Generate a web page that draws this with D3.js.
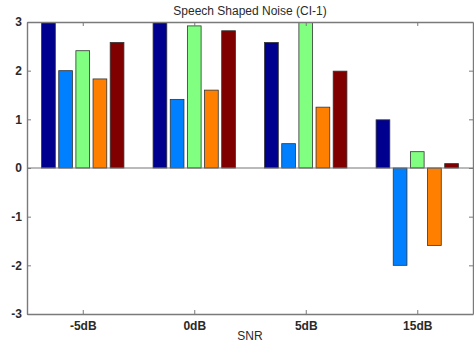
<!DOCTYPE html>
<html>
<head>
<meta charset="utf-8">
<script src="https://cdn.jsdelivr.net/npm/d3@7"></script>
<style>
  html, body { margin: 0; padding: 0; background: #fff; }
  svg { display: block; }
  text { font-family: "Liberation Sans", Arial, sans-serif; fill: #2a2a2a; }
</style>
</head>
<body>
<svg id="chart" width="474" height="347"></svg>
<script>
// SNR conditions on the x axis
const categories = ["-5dB", "0dB", "5dB", "15dB"];
// One array per series (five bars per SNR group)
const series1 = [3.3, 3.2, 2.58, 0.99];
const series2 = [2.0, 1.41, 0.5, -2.0];
const series3 = [2.41, 2.92, 3.3, 0.335];
const series4 = [1.83, 1.6, 1.25, -1.59];
const series5 = [2.58, 2.82, 1.99, 0.09];
const seriesList = [series1, series2, series3, series4, series5];
const colors = ["#00008f", "#0080ff", "#80ff80", "#ff8000", "#800000"];
const yTicks = [-3, -2, -1, 0, 1, 2, 3];

const title = "Speech Shaped Noise (CI-1)";
const xLabel = "SNR";

const svg = d3.select("#chart");
const margin = { left: 27, right: 1, top: 22, bottom: 33 };
const W = 474, H = 347;
const x0 = margin.left, x1 = W - margin.right;
const y0 = margin.top, y1 = H - margin.bottom;

// Category positions 1..4 with half-unit padding on each side
const x = d3.scaleLinear().domain([0.5, categories.length + 0.5]).range([x0, x1]);
const y = d3.scaleLinear().domain([-3, 3]).range([y1, y0]);

// Grouped-bar geometry
const nSeries = seriesList.length;
const groupWidth = Math.min(0.8, nSeries / (nSeries + 1.5));
const slot = groupWidth / nSeries;
const barW = slot * 0.8;

svg.append("clipPath").attr("id", "plotClip")
  .append("rect").attr("x", x0).attr("y", y0).attr("width", x1 - x0).attr("height", y1 - y0);

const plot = svg.append("g").attr("clip-path", "url(#plotClip)");

seriesList.forEach((vals, s) => {
  plot.selectAll(null)
    .data(vals)
    .enter()
    .append("rect")
    .attr("x", (d, i) => x(i + 1 - groupWidth / 2 + slot * s + (slot - barW) / 2))
    .attr("width", (d, i) => x(barW) - x(0))
    .attr("y", d => y(Math.max(0, d)))
    .attr("height", d => Math.abs(y(d) - y(0)))
    .attr("fill", colors[s])
    .attr("stroke", "#333")
    .attr("stroke-width", 0.8);
});

// Baseline at zero
svg.append("line")
  .attr("x1", x0).attr("x2", x1)
  .attr("y1", y(0)).attr("y2", y(0))
  .attr("stroke", "#777").attr("stroke-width", 1.2);

// Axes: ticks point inward, mirrored on the opposite sides
const tickLen = 4;
const axisColor = "#7a7a7a";

const bottomAxis = d3.axisBottom(x)
  .tickValues(d3.range(1, categories.length + 1))
  .tickFormat(d => categories[d - 1])
  .tickSizeInner(-tickLen).tickSizeOuter(0).tickPadding(7);
const gB = svg.append("g").attr("transform", `translate(0,${y1})`).call(bottomAxis);

const topAxis = d3.axisTop(x)
  .tickValues(d3.range(1, categories.length + 1))
  .tickFormat("")
  .tickSizeInner(-tickLen).tickSizeOuter(0);
const gT = svg.append("g").attr("transform", `translate(0,${y0})`).call(topAxis);

// Plain hyphen for negative tick labels
const leftAxis = d3.axisLeft(y)
  .tickValues(yTicks).tickFormat(d => String(d))
  .tickSizeInner(-tickLen).tickSizeOuter(0).tickPadding(5);
const gL = svg.append("g").attr("transform", `translate(${x0},0)`).call(leftAxis);

const rightAxis = d3.axisRight(y)
  .tickValues(yTicks).tickFormat("")
  .tickSizeInner(-tickLen).tickSizeOuter(0);
const gR = svg.append("g").attr("transform", `translate(${x1},0)`).call(rightAxis);

[gB, gT, gL, gR].forEach(g => {
  g.select(".domain").attr("stroke", axisColor).attr("stroke-width", 1.4);
  g.selectAll(".tick line").attr("stroke", axisColor).attr("stroke-width", 1);
  g.selectAll(".tick text")
    .style("font-family", "'Liberation Sans', Arial, sans-serif")
    .style("font-size", "12px")
    .style("font-weight", "bold")
    .attr("fill", "#3a3a3a");
});

// Title and axis label
svg.append("text")
  .attr("x", (x0 + x1) / 2).attr("y", 15)
  .attr("text-anchor", "middle")
  .style("font-size", "12px")
  .text(title);

svg.append("text")
  .attr("x", (x0 + x1) / 2).attr("y", 340)
  .attr("text-anchor", "middle")
  .style("font-size", "12px")
  .text(xLabel);
</script>
</body>
</html>
